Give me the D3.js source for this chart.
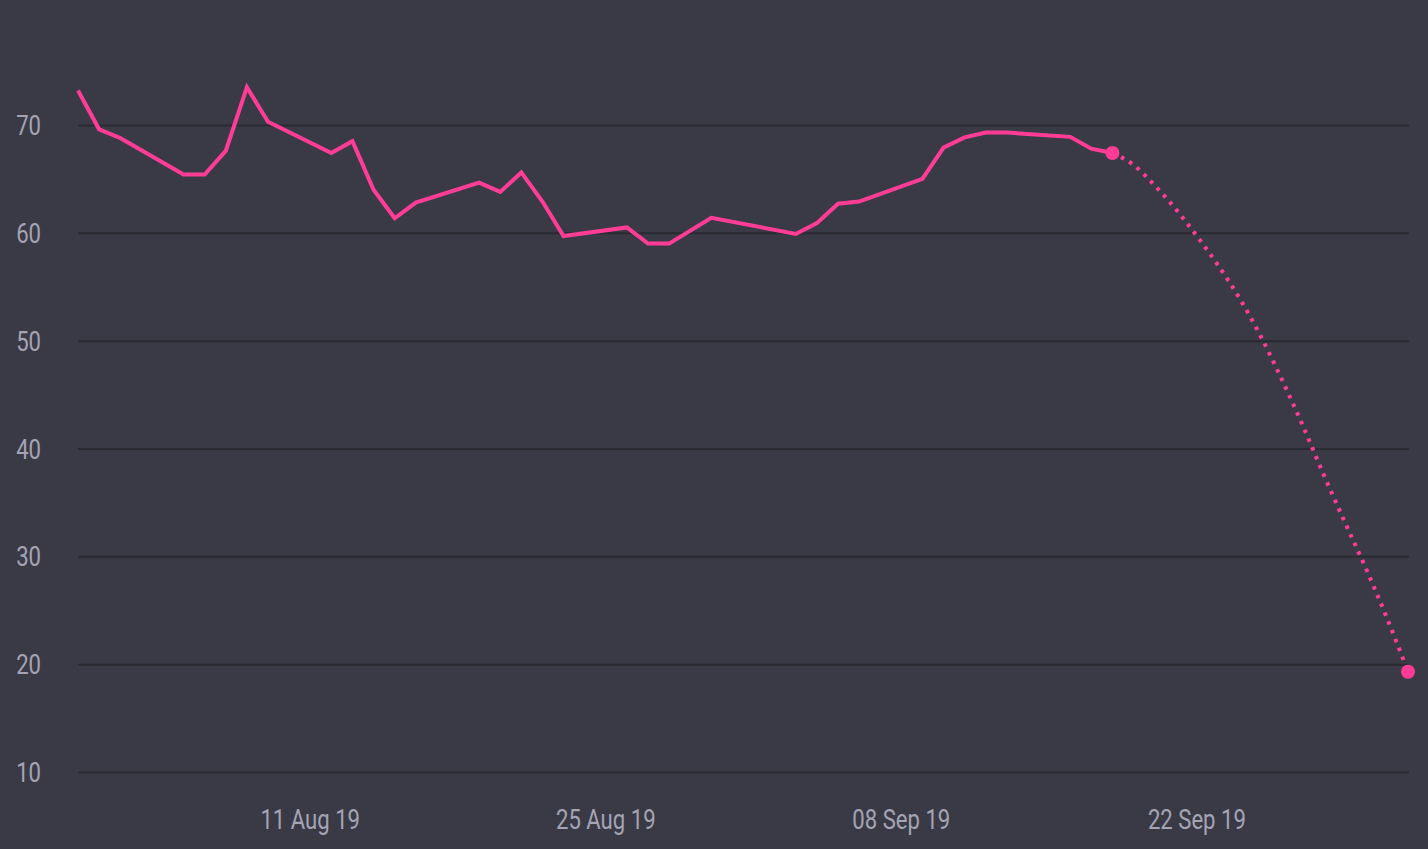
<!DOCTYPE html>
<html>
<head>
<meta charset="utf-8">
<script src="https://cdn.jsdelivr.net/npm/d3@7"></script>
<style>
  html, body { margin: 0; padding: 0; background: #3a3a46; overflow: hidden; }
  svg { display: block; }
  .tick-label { font-family: Roboto, "DejaVu Sans Condensed", sans-serif; font-size: 28px; fill: #a4a4b4; }
</style>
</head>
<body>
<svg id="chart" width="1428" height="849"></svg>
<script>
// Observed series (weekdays)
const dates = ["2019-07-31","2019-08-01","2019-08-02","2019-08-05","2019-08-06","2019-08-07","2019-08-08","2019-08-09",
  "2019-08-12","2019-08-13","2019-08-14","2019-08-15","2019-08-16","2019-08-19","2019-08-20","2019-08-21","2019-08-22","2019-08-23",
  "2019-08-26","2019-08-27","2019-08-28","2019-08-30","2019-09-03","2019-09-04","2019-09-05","2019-09-06",
  "2019-09-09","2019-09-10","2019-09-11","2019-09-12","2019-09-13","2019-09-16","2019-09-17","2019-09-18"];
const values = [73.2,69.6,68.8,65.4,65.4,67.6,73.5,70.3,
  67.4,68.5,64.0,61.35,62.8,64.65,63.8,65.6,62.9,59.7,
  60.5,59.0,59.0,61.4,59.9,60.9,62.7,62.9,
  65.0,67.9,68.85,69.3,69.3,68.9,67.8,67.4];

// Projection series (dotted)
const projDates = ["2019-09-18","2019-09-19","2019-09-20","2019-09-21","2019-09-22","2019-09-23","2019-09-24","2019-09-25",
  "2019-09-26","2019-09-27","2019-09-28","2019-09-29","2019-09-30","2019-10-01","2019-10-02"];
const projValues = [67.4,66.3,64.4,62.2,59.7,57.0,54.0,50.5,46.5,42.2,37.6,33.2,28.9,24.3,19.3];

const yTicks = [10,20,30,40,50,60,70];
const xTickDates = ["2019-08-11","2019-08-25","2019-09-08","2019-09-22"];
const xTickLabels = ["11 Aug 19","25 Aug 19","08 Sep 19","22 Sep 19"];

const parse = d3.timeParse("%Y-%m-%d");
const svg = d3.select("#chart");
const W = 1428, H = 849;
const margin = {left: 78, right: 20, top: 0, bottom: 77};
const condense = 0.79;

const x = d3.scaleTime()
  .domain([parse("2019-07-31"), parse("2019-10-02")])
  .range([margin.left, 1408]);
const y = d3.scaleLinear().domain([10, 70]).range([772, 125]);

svg.append("rect").attr("width", W).attr("height", H).attr("fill", "#3a3a46");

// grid
const grid = d3.axisLeft(y).tickValues(yTicks).tickSize(-(1409 - margin.left)).tickFormat("");
svg.append("g").attr("transform", `translate(${margin.left},0)`).call(grid)
  .call(g => g.select(".domain").remove())
  .call(g => g.selectAll("line").attr("stroke", "#2a2a33").attr("stroke-width", 2));

// y labels
svg.append("g").selectAll("text").data(yTicks).join("text")
  .attr("class", "tick-label")
  .attr("transform", d => `translate(41,${y(d) + 10}) scale(${condense},1)`)
  .attr("text-anchor", "end")
  .text(d => d);

// x labels
svg.append("g").selectAll("text").data(xTickDates).join("text")
  .attr("class", "tick-label")
  .attr("transform", d => `translate(${x(parse(d))},829) scale(${condense},1)`)
  .attr("text-anchor", "middle")
  .text((d, i) => xTickLabels[i]);

const col = "#ff3d96";
const data = dates.map((d, i) => ({date: parse(d), v: values[i]}));
const proj = projDates.map((d, i) => ({date: parse(d), v: projValues[i]}));

const line = d3.line().x(d => x(d.date)).y(d => y(d.v));
const smooth = d3.line().x(d => x(d.date)).y(d => y(d.v)).curve(d3.curveMonotoneX);

svg.append("path").datum(proj).attr("d", smooth)
  .attr("fill", "none").attr("stroke", col).attr("stroke-width", 4)
  .attr("stroke-dasharray", "3.5 6");

svg.append("path").datum(data).attr("d", line)
  .attr("fill", "none").attr("stroke", col).attr("stroke-width", 4)
  .attr("stroke-linejoin", "miter");

svg.append("g").selectAll("circle").data([data[data.length - 1], proj[proj.length - 1]]).join("circle")
  .attr("cx", d => x(d.date)).attr("cy", d => y(d.v)).attr("r", 7).attr("fill", col);
</script>
</body>
</html>
